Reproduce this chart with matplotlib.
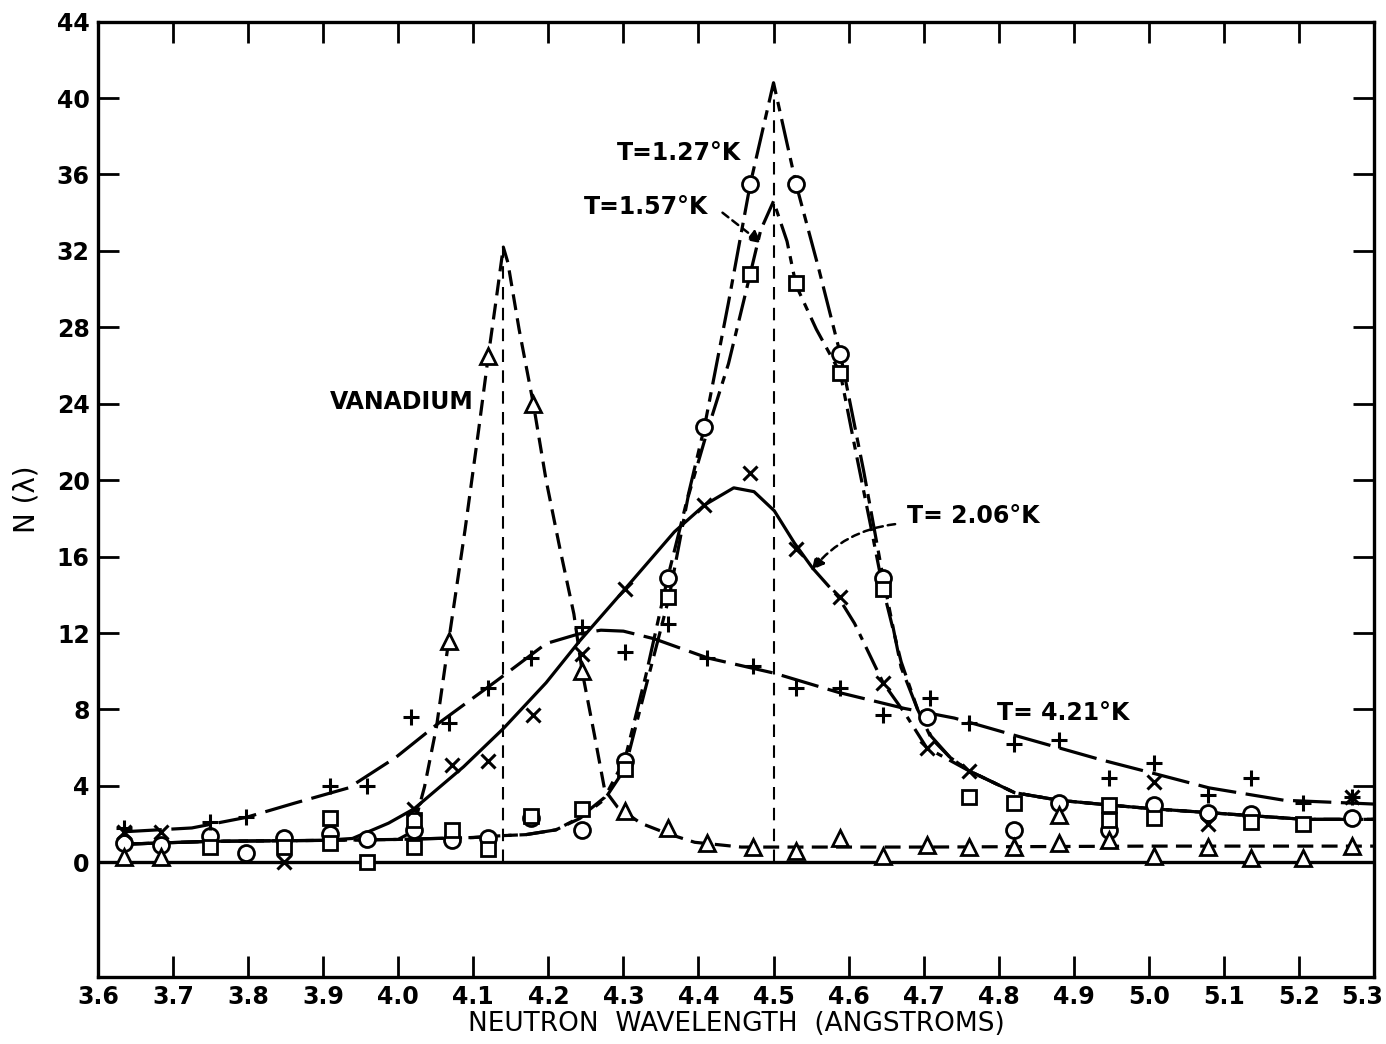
import matplotlib
matplotlib.use("Agg")
import matplotlib.pyplot as plt
from matplotlib.transforms import ScaledTranslation

# T = 1.27 K, circles
CIRC_X = [3.634, 3.684, 3.749, 3.797, 3.848, 3.909, 3.959, 4.021, 4.071, 4.120, 4.177, 4.245,
          4.302, 4.359, 4.408, 4.469, 4.530, 4.589, 4.646, 4.704, 4.821, 4.880, 4.947, 5.007,
          5.079, 5.136, 5.271]
CIRC_Y = [1.0, 0.9, 1.4, 0.5, 1.3, 1.5, 1.2, 1.7, 1.15, 1.25, 2.3, 1.7,
          5.3, 14.9, 22.8, 35.5, 35.5, 26.6, 14.9, 7.6, 1.7, 3.1, 1.7, 3.0,
          2.6, 2.55, 2.3]

# T = 1.57 K, squares
SQ_X = [3.749, 3.848, 3.909, 3.909, 3.959, 4.021, 4.021, 4.071, 4.120, 4.177, 4.245, 4.302,
        4.359, 4.469, 4.530, 4.589, 4.646, 4.760, 4.821, 4.947, 4.947, 5.007, 5.136, 5.205]
SQ_Y = [0.8, 0.8, 2.3, 1.0, 0.0, 2.2, 0.8, 1.7, 0.7, 2.4, 2.8, 4.9,
        13.9, 30.8, 30.3, 25.6, 14.3, 3.4, 3.1, 3.0, 2.2, 2.3, 2.1, 2.0]

# T = 2.06 K, crosses
X_X = [3.634, 3.684, 3.848, 4.021, 4.071, 4.120, 4.180, 4.245, 4.302, 4.408, 4.469, 4.530,
       4.589, 4.646, 4.704, 4.760, 5.007, 5.079, 5.271]
X_Y = [1.6, 1.6, 0.0, 2.8, 5.1, 5.3, 7.7, 10.9, 14.3, 18.7, 20.4, 16.4,
       13.9, 9.4, 6.0, 4.8, 4.2, 2.0, 3.4]

# T = 4.21 K, plus signs
P_X = [3.634, 3.749, 3.797, 3.909, 3.959, 4.017, 4.068, 4.120, 4.177, 4.245, 4.302, 4.359,
       4.412, 4.472, 4.530, 4.589, 4.646, 4.708, 4.760, 4.821, 4.880, 4.947, 5.007, 5.079,
       5.136, 5.205, 5.271]
P_Y = [1.8, 2.1, 2.35, 4.0, 4.0, 7.6, 7.3, 9.1, 10.7, 12.3, 11.0, 12.5,
       10.7, 10.3, 9.1, 9.1, 7.7, 8.6, 7.3, 6.2, 6.4, 4.4, 5.2, 3.5,
       4.4, 3.1, 3.4]

# vanadium, triangles
TRI_X = [3.634, 3.684, 4.068, 4.120, 4.180, 4.245, 4.302, 4.359, 4.412, 4.472, 4.530, 4.589,
         4.646, 4.704, 4.760, 4.821, 4.880, 4.880, 4.947, 5.007, 5.079, 5.136, 5.205, 5.271]
TRI_Y = [0.3, 0.3, 11.6, 26.5, 24.0, 10.0, 2.7, 1.8, 1.0, 0.8, 0.6, 1.3,
         0.35, 0.9, 0.8, 0.8, 2.5, 1.0, 1.15, 0.35, 0.8, 0.25, 0.25, 0.85]

# hand-drawn curves
VAN_CX = [4.000, 4.014, 4.024, 4.035, 4.051, 4.068, 4.089, 4.107, 4.120, 4.131, 4.140, 4.146,
          4.161, 4.180, 4.197, 4.215, 4.234, 4.245, 4.261, 4.275, 4.292, 4.323, 4.359, 4.395,
          4.457, 4.700, 5.000, 5.300]
VAN_CY = [1.2, 1.5, 2.35, 3.95, 7.1, 11.8, 17.4, 22.6, 26.5, 29.6, 32.2, 31.4,
          27.9, 24.0, 20.0, 16.5, 13.0, 10.0, 6.75, 3.8, 2.9, 2.05, 1.5, 1.05,
          0.8, 0.8, 0.85, 0.85]

# common right-hand tail of the 1.27, 1.57 and 2.06 K curves
TAIL_X = [4.821, 4.880, 4.947, 5.007, 5.080, 5.207, 5.300]
TAIL_Y = [3.65, 3.25, 3.0, 2.8, 2.6, 2.25, 2.25]

C127_X = [3.634, 3.750, 3.900, 4.000, 4.100, 4.140, 4.170, 4.210, 4.242, 4.275, 4.302, 4.330,
          4.359, 4.385, 4.408, 4.440, 4.469, 4.500, 4.530, 4.560, 4.589, 4.620, 4.646, 4.670,
          4.692, 4.710, 4.735, 4.760]
C127_Y = [0.95, 1.1, 1.15, 1.2, 1.3, 1.4, 1.45, 1.7, 2.35, 3.4, 5.4, 9.8,
          14.9, 19.0, 22.8, 29.3, 35.5, 40.8, 35.5, 31.1, 26.6, 20.5, 14.9, 10.2,
          8.0, 6.6, 5.5, 4.8]

C157_X = [3.634, 3.750, 3.900, 4.000, 4.100, 4.140, 4.170, 4.210, 4.242, 4.275, 4.302, 4.330,
          4.361, 4.386, 4.412, 4.440, 4.469, 4.483, 4.500, 4.518, 4.530, 4.557, 4.589, 4.608,
          4.630, 4.646, 4.670, 4.692, 4.710, 4.735, 4.760]
C157_Y = [0.95, 1.1, 1.15, 1.2, 1.3, 1.4, 1.45, 1.7, 2.3, 3.3, 4.9, 9.2,
          13.9, 19.1, 22.6, 26.1, 30.8, 33.1, 34.6, 32.5, 30.2, 27.9, 25.6, 21.8,
          17.5, 14.3, 10.5, 8.0, 6.5, 5.5, 4.8]

C206_SOLID_X = [3.634, 3.750, 3.900, 3.939, 3.987, 4.021, 4.087, 4.140, 4.197, 4.242, 4.302,
                4.368, 4.408, 4.447, 4.474, 4.501, 4.528, 4.552]
C206_SOLID_Y = [0.95, 1.1, 1.15, 1.25, 2.05, 2.8, 5.0, 7.0, 9.4, 11.6, 14.3,
                17.3, 18.7, 19.6, 19.4, 18.4, 16.7, 15.4]
C206_DASH_X = [4.552, 4.586, 4.608, 4.646, 4.675, 4.704, 4.760]
C206_DASH_Y = [15.4, 13.9, 12.5, 9.4, 7.8, 6.0, 4.8]

C421_X = [3.634, 3.725, 3.797, 3.862, 3.934, 3.997, 4.051, 4.131, 4.197, 4.240, 4.270, 4.300,
          4.341, 4.412, 4.501, 4.586, 4.675, 4.741, 4.821, 4.938, 5.007, 5.080, 5.180, 5.271,
          5.300]
C421_Y = [1.6, 1.8, 2.35, 3.1, 3.9, 5.5, 7.2, 9.5, 11.45, 11.95, 12.15, 12.1,
          11.7, 10.7, 9.9, 8.9, 8.05, 7.55, 6.65, 5.35, 4.65, 3.9, 3.25, 3.1,
          3.05]

VAN_PEAK = (4.14, 32.2)
LOW_T_PEAK = (4.50, 40.8)

X_TICKS = [3.6 + 0.1 * i for i in range(18)]
Y_TICKS = list(range(0, 45, 4))


def main() -> None:
    plt.rcParams["font.family"] = ["DejaVu Sans"]
    fig = plt.figure(figsize=(13.86, 10.44), dpi=100, facecolor="white")
    ax = fig.add_axes([98 / 1386, 1 - 977 / 1044, (1374 - 98) / 1386, (977 - 21.6) / 1044])
    ax.set_xlim(3.6, 5.3)
    ax.set_ylim(-6, 44)

    ink = "black"
    lw = 2.3

    ax.axhline(0, color=ink, lw=2.4, zorder=2)
    ax.plot([VAN_PEAK[0]] * 2, [0, VAN_PEAK[1]], color=ink, lw=1.5, ls=(0, (6, 4)), zorder=1)
    ax.plot([LOW_T_PEAK[0]] * 2, [0, LOW_T_PEAK[1]], color=ink, lw=1.5, ls=(0, (6, 4)), zorder=1)

    ax.plot(VAN_CX, VAN_CY, color=ink, lw=lw, ls=(0, (5, 2.6)), zorder=2)
    ax.plot(C127_X + TAIL_X, C127_Y + TAIL_Y, color=ink, lw=lw, ls=(0, (10, 2.5, 3, 2.5)),
            zorder=2, solid_joinstyle="round")
    ax.plot(C157_X + TAIL_X, C157_Y + TAIL_Y, color=ink, lw=lw, ls=(0, (8, 2.5, 2.5, 2.5)),
            zorder=2)
    ax.plot(C206_SOLID_X, C206_SOLID_Y, color=ink, lw=lw, zorder=2, solid_joinstyle="round")
    ax.plot(C206_DASH_X + TAIL_X, C206_DASH_Y + TAIL_Y, color=ink, lw=lw,
            ls=(0, (8, 2.5, 2, 2.5)), zorder=2)
    ax.plot(C421_X, C421_Y, color=ink, lw=lw, ls=(0, (12, 3)), zorder=2)

    ax.plot(CIRC_X, CIRC_Y, ls="none", marker="o", ms=11.5, mfc="white", mec=ink, mew=2, zorder=4)
    ax.plot(SQ_X, SQ_Y, ls="none", marker="s", ms=10, mfc="white", mec=ink, mew=2, zorder=4)
    ax.plot(TRI_X, TRI_Y, ls="none", marker="^", ms=12, mfc="white", mec=ink, mew=2, zorder=4)
    ax.plot(X_X, X_Y, ls="none", marker="x", ms=10, mec=ink, mew=2.2, zorder=5)
    ax.plot(P_X, P_Y, ls="none", marker="+", ms=12, mec=ink, mew=2.2, zorder=5)

    label_kw = dict(fontsize=17, fontweight="bold", color=ink, ha="center", va="center", zorder=6)
    ax.text(4.005, 24.1, "VANADIUM", **label_kw)
    ax.text(4.374, 37.1, "T=1.27°K", **label_kw)
    ax.text(4.330, 34.3, "T=1.57°K", **label_kw)
    ax.text(4.766, 18.1, "T= 2.06°K", **label_kw)
    ax.text(4.886, 7.8, "T= 4.21°K", **label_kw)

    ax.annotate("", xy=(4.484, 32.4), xytext=(4.432, 34.0),
                arrowprops=dict(arrowstyle="-|>", lw=1.8, ls=(0, (3, 2)), color=ink,
                                mutation_scale=18, shrinkA=0, shrinkB=0))
    ax.annotate("", xy=(4.551, 15.3), xytext=(4.662, 17.7),
                arrowprops=dict(arrowstyle="-|>", lw=1.8, ls=(0, (3, 2)), color=ink,
                                mutation_scale=18, shrinkA=0, shrinkB=0,
                                connectionstyle="arc3,rad=0.2"))

    ax.set_xticks(X_TICKS)
    ax.set_xticklabels([f"{v:.1f}" for v in X_TICKS])
    ax.set_yticks(Y_TICKS)
    ax.tick_params(axis="both", direction="in", length=15, width=2, colors=ink,
                   labelsize=17, top=True, right=True, pad=6)
    for lab in ax.get_xticklabels() + ax.get_yticklabels():
        lab.set_fontweight("bold")
    # last x label would run off the right edge; nudge it left like the original
    last = ax.get_xticklabels()[-1]
    last.set_transform(last.get_transform() + ScaledTranslation(-12 / 100, 0, fig.dpi_scale_trans))
    for spine in ax.spines.values():
        spine.set_linewidth(2.4)
        spine.set_color(ink)

    ax.set_xlabel("NEUTRON  WAVELENGTH  (ANGSTROMS)", fontsize=19, labelpad=1)
    ax.set_ylabel("N (λ)", fontsize=20, labelpad=12)

    fig.savefig("out.png", dpi=100, facecolor="white")
    plt.close(fig)


if __name__ == "__main__":
    main()
